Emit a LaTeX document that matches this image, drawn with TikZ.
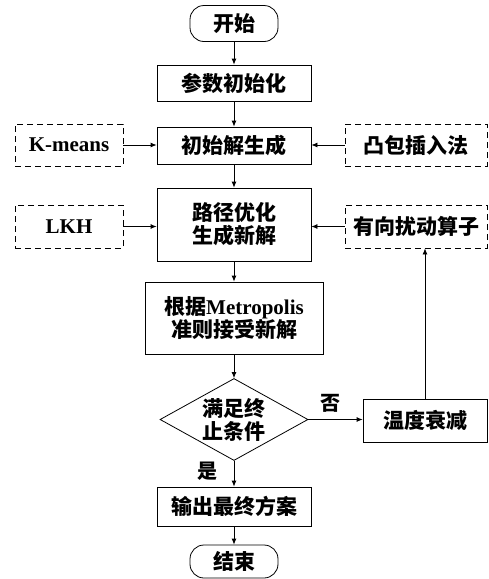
\documentclass[tikz,border=0pt]{standalone}
\usepackage{fontspec}
\setmainfont{Liberation Serif}
\newfontfamily\cjk{Noto Sans CJK SC}
\usetikzlibrary{shapes.geometric,arrows.meta}
\tikzset{
  base/.style={draw, line width=0.8pt, inner sep=0pt, align=center,
    font=\cjk\bfseries\fontsize{21}{23}\selectfont},
  box/.style={base, minimum width=154pt, minimum height=37pt},
  aux/.style={base, dashed, dash pattern=on 6pt off 4pt},
  term/.style={base, rounded corners=14pt, minimum width=88pt, minimum height=36pt},
  dec/.style={base, diamond, aspect=1.8, minimum width=148pt, minimum height=82pt},
  arr/.style={line width=0.8pt, -{Latex[length=6pt,width=5pt]}},
  lbl/.style={font=\cjk\bfseries\fontsize{20}{22}\selectfont, inner sep=0pt}
}
\begin{document}
\begin{tikzpicture}[x=1pt,y=-1pt]
\useasboundingbox (0,0) rectangle (488,579);
\node[term] (start) at (234,23.5) {开始};
\node[box, minimum height=36pt] (param) at (234,83) {参数初始化};
\node[box] (init) at (234,145.5) {初始解生成};
\node[aux, minimum width=108pt, minimum height=42pt] (km) at (69,145) {{\rmfamily\bfseries K-means}};
\node[aux, minimum width=142pt, minimum height=42pt] (cvx) at (416,145) {凸包插入法};
\node[box, minimum height=73pt] (path) at (234,224.5) {路径优化\\生成新解};
\node[aux, minimum width=108pt, minimum height=43pt] (lkh) at (69,226.5) {{\rmfamily\bfseries LKH}};
\node[aux, minimum width=142pt, minimum height=43pt] (dir) at (416,226.5) {有向扰动算子};
\node[box, minimum width=178pt, minimum height=72pt] (metro) at (234,318) {根据{\rmfamily\bfseries Metropolis}\\准则接受新解};
\node[dec] (cond) at (234,419.5) {满足终\\止条件};
\node[box, minimum width=124pt, minimum height=43pt] (temp) at (425,420.5) {温度衰减};
\node[box, minimum height=39pt] (out) at (234,506.5) {输出最终方案};
\node[term, minimum height=33pt] (end) at (234,561.5) {结束};
\node[lbl] (no) at (330,403) {否};
\node[lbl] (yes) at (207,471) {是};

\draw[arr] (start) -- (param);
\draw[arr] (param) -- (init);
\draw[arr] (init) -- (path);
\draw[arr] (path) -- (metro);
\draw[arr] (metro) -- (cond);
\draw[arr] (cond) -- (out);
\draw[arr] (out) -- (end);
\draw[arr] (km.east) -- (km.east -| init.west);
\draw[arr] (cvx.west) -- (cvx.west -| init.east);
\draw[arr] (lkh.east) -- (lkh.east -| path.west);
\draw[arr] (dir.west) -- (dir.west -| path.east);
\draw[arr] (cond.east) -- (cond.east -| temp.west);
\draw[arr] (temp.north) -- (temp.north |- dir.south);
\end{tikzpicture}
\end{document}
